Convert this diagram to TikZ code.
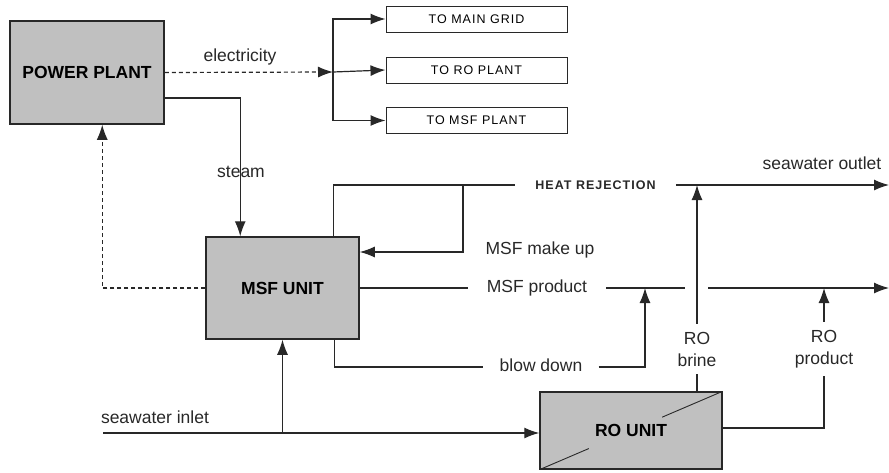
\documentclass[tikz,border=0pt]{standalone}
\usepackage{fontspec}
\setmainfont{Liberation Sans}
\newfontfamily\spaced[LetterSpace=8]{Liberation Sans}
\usetikzlibrary{arrows.meta,calc}
\definecolor{boxfill}{HTML}{C0C0C0}
\definecolor{ink}{HTML}{282828}
\tikzset{
  unitbox/.style={draw=ink,line width=1.5pt,fill=boxfill,inner sep=0pt,font=\fontsize{17.5}{20}\selectfont\bfseries},
  destbox/.style={draw=ink,line width=1pt,fill=white,inner sep=0pt,minimum width=181pt,minimum height=26pt,font=\spaced\fontsize{12.5}{14}\selectfont},
  lbl/.style={inner sep=0pt,font=\fontsize{17.5}{22}\selectfont,text=ink,align=center},
  flow/.style={draw=ink,line width=1.2pt},
  tip/.style={-{Latex[length=15pt,width=11pt]}},
}
\begin{document}
\begin{tikzpicture}[x=1pt,y=-1pt]
\useasboundingbox (0,0) rectangle (889,472);
% boxes
\node[unitbox,minimum width=154pt,minimum height=103pt] (pp) at (87,72.5) {POWER PLANT};
\node[unitbox,minimum width=153pt,minimum height=102pt] (msf) at (282.5,288) {MSF UNIT};
\node[unitbox,minimum width=182pt,minimum height=77pt] (ro) at (631,430.5) {RO UNIT};
\node[destbox] (grid) at (476.5,19) {TO MAIN GRID};
\node[destbox] (rop) at (476.5,70) {TO RO PLANT};
\node[destbox] (msfp) at (476.5,120.5) {TO MSF PLANT};
% RO membrane diagonal
\draw[ink,line width=0.9pt] ($(ro.south west)!0.01!(ro.north east)$) -- ($(ro.south west)!0.27!(ro.north east)$);
\draw[ink,line width=0.9pt] ($(ro.south west)!0.67!(ro.north east)$) -- ($(ro.south west)!0.99!(ro.north east)$);
% labels
\node[lbl] (elec) at (240,57) {electricity};
\node[lbl,fill=white,inner ysep=2pt] (steam) at (241,172) {steam};
\node[lbl,font=\spaced\fontsize{12.5}{14}\selectfont\bfseries,inner xsep=20pt] (hr) at (595.5,185) {HEAT REJECTION};
\node[lbl] (out) at (822,163) {seawater outlet};
\node[lbl] (mu) at (540,250) {MSF make up};
\node[lbl,inner xsep=19pt] (mp) at (537,288) {MSF product};
\node[lbl,inner xsep=16pt] (bd) at (541,365) {blow down};
\node[lbl,inner ysep=8pt] (rb) at (697,349) {RO\\brine};
\node[lbl,inner ysep=8pt] (rp) at (824,349) {RO\\product};
\node[lbl] (inl) at (155,417) {seawater inlet};
% coordinates
\coordinate (br) at (333,72);
\coordinate (in) at (103,433);
\coordinate (out1) at (889,185);
\coordinate (out2) at (889,288);
\coordinate (mkup) at (463,185);
% electricity
\draw[flow,dashed,dash pattern=on 4pt off 3pt,tip] (pp.east) -- (br);
\draw[flow,tip] (br) |- (grid.west);
\draw[flow,tip] (br) -- (rop.west);
\draw[flow,tip] (br) |- (msfp.west);
% steam
\draw[flow,tip] ([yshift=-25.5pt]pp.east) -| ([xshift=35pt]msf.north west);
% dashed return
\draw[flow,dashed,dash pattern=on 4pt off 3pt,tip] (msf.west) -| ([xshift=93pt]pp.south west);
% seawater inlet
\draw[flow,tip] (in) -- (in -| ro.west);
\draw[flow,tip] (msf.south |- in) -- (msf.south);
% heat rejection
\draw[flow] ([xshift=-26pt]msf.north east) |- (hr.west);
\draw[flow,tip] (hr.east) -- (out1);
\draw[flow,tip] (mkup) |- ([yshift=36pt]msf.east);
% MSF product
\draw[flow] (msf.east) -- (mp.west);
\draw[flow] (mp.east) -- (685,288);
\draw[flow,tip] (708,288) -- (out2);
% blow down
\draw[flow] ([xshift=-25pt]msf.south east) |- (bd.west |- 0,367);
\draw[flow,tip] (bd.east |- 0,367) -| (645,288);
% RO brine
\draw[flow] (ro.north -| rb) -- (rb.south);
\draw[flow,tip] (rb.north) -- (out1 -| rb);
% RO product
\draw[flow] (ro.east |- 0,428) -| (rp.south);
\draw[flow,tip] (rp.north) -- (out2 -| rp);
\end{tikzpicture}
\end{document}
